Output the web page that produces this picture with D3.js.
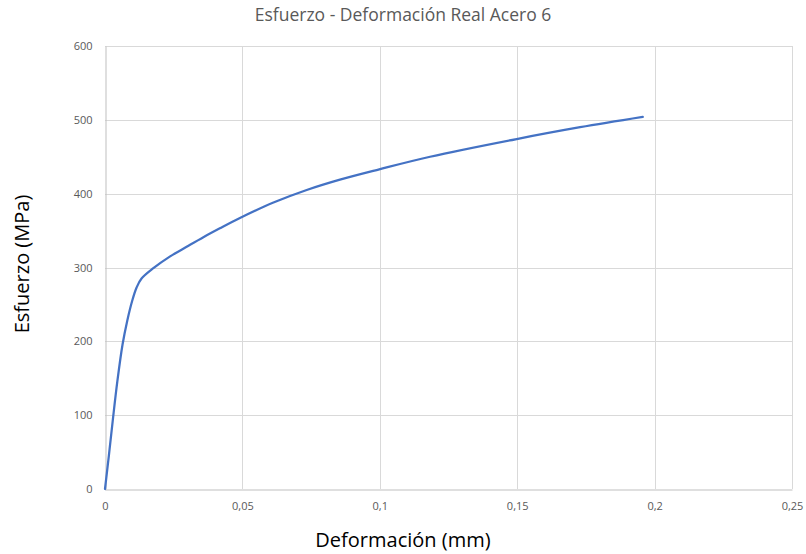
<!DOCTYPE html>
<html>
<head>
<meta charset="utf-8">
<script src="https://cdn.jsdelivr.net/npm/d3@7/dist/d3.min.js"></script>
<style>
  html, body { margin: 0; padding: 0; background: #fff; }
  svg { display: block; }
</style>
</head>
<body>
<svg id="chart" width="806" height="554"></svg>
<script>
const title = "Esfuerzo - Deformación Real Acero 6";
const xLabel = "Deformación (mm)";
const yLabel = "Esfuerzo (MPa)";
const xTicks = [0, 0.05, 0.1, 0.15, 0.2, 0.25];
const yTicks = [0, 100, 200, 300, 400, 500, 600];
const strain = [0, 0.0014, 0.0028, 0.0045, 0.0064, 0.0081, 0.0099, 0.0115, 0.0133, 0.0176, 0.0237, 0.0297, 0.0358, 0.0418, 0.0491, 0.0613, 0.0734, 0.0855, 0.0998, 0.1183, 0.1498, 0.1729, 0.1957];
const stress = [0, 45, 92, 146, 196, 228, 255, 273, 285, 299, 315, 328, 341, 353, 367, 388, 405, 419, 433, 450, 474, 490, 504];

const svg = d3.select("#chart");
const W = 806, H = 554;
const m = {left: 105, right: W - 792, top: 46, bottom: H - 489};

const x = d3.scaleLinear().domain([0, 0.25]).range([m.left, W - m.right]);
const y = d3.scaleLinear().domain([0, 600]).range([H - m.bottom, m.top]);

const fmt = d => d === 0 ? "0" : String(d).replace(".", ",");
const font = "'Open Sans', 'Liberation Sans', sans-serif";

// gridlines
const g = svg.append("g");
g.selectAll(".vg").data(xTicks.slice(1)).enter().append("line")
  .attr("x1", d => Math.round(x(d)) + 0.5).attr("x2", d => Math.round(x(d)) + 0.5)
  .attr("y1", y(600)).attr("y2", y(0))
  .attr("stroke", "#d9d9d9").attr("stroke-width", 1);
g.selectAll(".hg").data(yTicks.slice(1)).enter().append("line")
  .attr("x1", x(0)).attr("x2", x(0.25))
  .attr("y1", d => Math.round(y(d)) + 0.5).attr("y2", d => Math.round(y(d)) + 0.5)
  .attr("stroke", "#d9d9d9").attr("stroke-width", 1);

// axes
const xAxis = d3.axisBottom(x).tickValues(xTicks).tickFormat(fmt).tickSize(0).tickPadding(13);
const yAxis = d3.axisLeft(y).tickValues(yTicks).tickFormat(fmt).tickSize(0).tickPadding(13);

const gx = svg.append("g").attr("transform", `translate(0,${Math.round(y(0)) + 0.5})`).call(xAxis);
const gy = svg.append("g").attr("transform", `translate(${Math.round(x(0)) + 0.5},0)`).call(yAxis);
[gx, gy].forEach(a => {
  a.select(".domain").attr("stroke", "#bfbfbf").attr("stroke-width", 1);
  a.selectAll("text").attr("fill", "#595959").style("font-family", font).style("font-size", "11px");
});

// line
const data = strain.map((s, i) => ({s, v: stress[i]}));
svg.append("path").datum(data)
  .attr("fill", "none")
  .attr("stroke", "#4472C4")
  .attr("stroke-width", 2.25)
  .attr("stroke-linecap", "round")
  .attr("stroke-linejoin", "round")
  .attr("d", d3.line().x(d => x(d.s)).y(d => y(d.v)).curve(d3.curveCatmullRom.alpha(0.5)));

// title
svg.append("text").attr("x", 403).attr("y", 21).attr("text-anchor", "middle")
  .attr("fill", "#595959").style("font-family", font)
  .style("font-size", "17.5px").text(title);

svg.append("text").attr("x", 403).attr("y", 547).attr("text-anchor", "middle")
  .attr("fill", "#000").style("font-family", font)
  .style("font-size", "20px").text(xLabel);

svg.append("text").attr("transform", "translate(29,264) rotate(-90)").attr("text-anchor", "middle")
  .attr("fill", "#000").style("font-family", font)
  .style("font-size", "20px").text(yLabel);
</script>
</body>
</html>
